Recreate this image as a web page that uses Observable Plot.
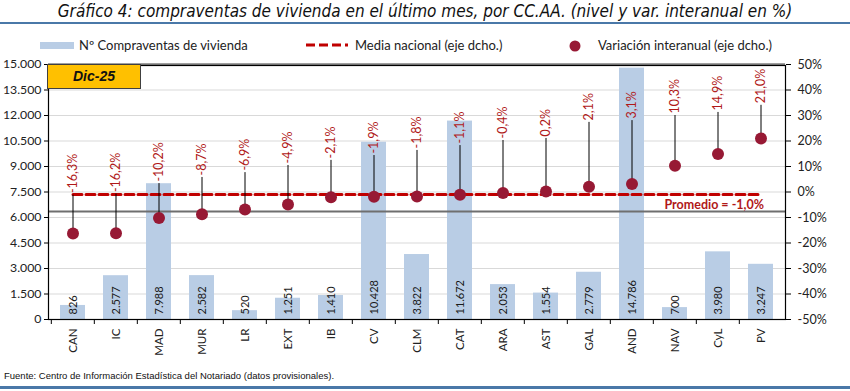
<!DOCTYPE html>
<html>
<head>
<meta charset="utf-8">
<script src="https://cdn.jsdelivr.net/npm/d3@7"></script>
<script src="https://cdn.jsdelivr.net/npm/@observablehq/plot@0.6"></script>
<style>
  html, body { margin: 0; padding: 0; background: white; }
  #wrap { position: relative; width: 850px; height: 391px; overflow: hidden; background: white; }
  #chart { position: absolute; left: 0; top: 0; }
  .abs { position: absolute; white-space: nowrap; }
  #title { left: 0; width: 850px; top: 1px; text-align: center; font-family: "Liberation Sans Narrow", "DejaVu Sans Condensed", sans-serif; font-style: italic; font-size: 17px; color: #111; }
  .bline { left: 0; width: 850px; height: 2px; background: #4a78a8; }
  .leg { font-family: Lato, sans-serif; font-size: 13px; color: #222; top: 37px; }
  #footer { left: 4px; top: 370px; font-family: "Liberation Sans", Arial, sans-serif; font-size: 9.5px; color: #111; }
  #dic { left: 47px; top: 64px; width: 92px; height: 23px; background: #FFC000; border: 1px solid #404040; font-family: "Liberation Sans", Arial, sans-serif; font-weight: bold; font-style: italic; font-size: 14px; line-height: 23px; text-align: center; color: #111; }
</style>
</head>
<body>
<div id="wrap">
  <div id="chart"></div>
  <div id="title" class="abs">Gráfico 4: compraventas de vivienda en el último mes, por CC.AA. (nivel y var. interanual en %)</div>
  <div class="abs bline" style="top:22px"></div>
  <div class="abs" style="left:40px;top:42px;width:34px;height:7px;background:#b9cde5"></div>
  <div class="abs leg" style="left:79px">Nº Compraventas de vivienda</div>
  <svg class="abs" style="left:304px;top:40px" width="46" height="10"><line x1="2" y1="5" x2="44" y2="5" stroke="#c00000" stroke-width="3" stroke-dasharray="9,4"/></svg>
  <div class="abs leg" style="left:355px">Media nacional (eje dcho.)</div>
  <svg class="abs" style="left:568px;top:39px" width="14" height="14"><circle cx="7" cy="7" r="5.5" fill="#971934"/></svg>
  <div class="abs leg" style="left:598px">Variación interanual (eje dcho.)</div>
  <div id="dic" class="abs">Dic-25</div>
  <div id="footer" class="abs">Fuente: Centro de Información Estadística del Notariado (datos provisionales).</div>
  <div class="abs bline" style="top:386px;height:3px"></div>
</div>
<script>
// ---- data ----
const categories = ["CAN","IC","MAD","MUR","LR","EXT","IB","CV","CLM","CAT","ARA","AST","GAL","AND","NAV","CyL","PV"];
const sales = [826, 2577, 7988, 2582, 520, 1251, 1410, 10428, 3822, 11672, 2053, 1554, 2779, 14786, 700, 3980, 3247];
const yoy = [-16.3, -16.2, -10.2, -8.7, -6.9, -4.9, -2.1, -1.9, -1.8, -1.1, -0.4, 0.2, 2.1, 3.1, 10.3, 14.9, 21.0];
// label anchor level (right axis, %) where each leader line ends
const labelAnchor = [-1.2, -0.8, 3.3, 5.7, 7.6, 10.4, 12.4, 14.3, 16.3, 18.2, 20.2, 21.0, 27.3, 28.0, 30.0, 31.2, 34.0];
const nationalMean = -1.0;
const leftTicks = [0, 1500, 3000, 4500, 6000, 7500, 9000, 10500, 12000, 13500, 15000];
const rightTicks = [-50, -40, -30, -20, -10, 0, 10, 20, 30, 40, 50];
const refLineLevel = 6350; // dark gray horizontal line (left axis units)
const promedioText = "Promedio = -1,0%";

// ---- helpers ----
const loc = d3.formatLocale({decimal: ",", thousands: ".", grouping: [3], currency: ["", "€"], minus: "-"});
const fmtInt = loc.format(",d");
const fmtPct = v => loc.format(".1f")(v) + "%";
const leftMin = 0, leftMax = 15000, rightMin = -50, rightMax = 50;
const toLeft = p => leftMin + (p - rightMin) / (rightMax - rightMin) * (leftMax - leftMin);
const toRight = v => rightMin + (v - leftMin) / (leftMax - leftMin) * (rightMax - rightMin);

const data = categories.map((c, i) => ({cat: c, sales: sales[i], yoy: yoy[i], anchor: labelAnchor[i]}));

const W = 850, H = 391, mL = 48, mR = 65, mT = 64, mB = 72;
const step = (W - mL - mR) / categories.length;

const chart = Plot.plot({
  width: W, height: H,
  marginLeft: mL, marginRight: mR, marginTop: mT, marginBottom: mB,
  style: {fontFamily: "Lato, sans-serif", background: "white", color: "#222"},
  x: {type: "band", domain: categories, paddingInner: 0.42, paddingOuter: 0.21, label: null},
  y: {domain: [leftMin, leftMax], label: null},
  marks: [
    Plot.gridY(leftTicks, {stroke: "#d9d9d9", strokeOpacity: 1, strokeWidth: 1}),
    Plot.barY(data, {x: "cat", y: "sales", fill: "#b9cde5"}),
    Plot.text(data, {x: "cat", y: 0, text: d => fmtInt(d.sales), rotate: -90, textAnchor: "start", dy: -5, fontSize: 11, fill: "#1a1a1a"}),
    Plot.ruleY([refLineLevel], {stroke: "#6f6f6f", strokeWidth: 2}),
    Plot.ruleY([leftMax], {stroke: "#7f7f7f", strokeWidth: 2.5}),
    Plot.lineY(data, {x: "cat", y: () => toLeft(nationalMean), stroke: "#c00000", strokeWidth: 3, strokeDasharray: "9,4"}),
    Plot.ruleX(data, {x: "cat", y1: d => toLeft(d.yoy), y2: d => toLeft(d.anchor), stroke: "#000", strokeWidth: 1}),
    Plot.dot(data, {x: "cat", y: d => toLeft(d.yoy), r: 6, fill: "#971934"}),
    Plot.text(data, {x: "cat", y: d => toLeft(d.anchor), text: d => fmtPct(d.yoy), rotate: -90, textAnchor: "start", dy: -2, fontSize: 12.5, fill: "#b01818"}),
    Plot.text([promedioText], {x: () => categories[categories.length - 1], y: () => toLeft(nationalMean), text: d => d, textAnchor: "end", dx: 3, dy: 10, fontSize: 12.5, fontWeight: "bold", fill: "#b01818"}),
    Plot.axisY(leftTicks, {anchor: "left", tickSize: 4, tickPadding: 3, tickFormat: fmtInt, fontSize: 12.3, stroke: "#000"}),
    Plot.axisY(rightTicks.map(toLeft), {anchor: "right", tickSize: 5, tickPadding: 7, tickFormat: v => fmtPct(toRight(v)).replace(",0", ""), fontSize: 12.5, stroke: "#000"}),
    Plot.axisX({tickSize: 0, tickRotate: -90, tickPadding: 9, fontSize: 11.5}),
    Plot.axisX({tickSize: 5, tickFormat: () => "", dx: -step / 2, stroke: "#000"}),
    Plot.frame({stroke: "#000", strokeWidth: 1.2, insetTop: 1})
  ]
});
document.getElementById("chart").appendChild(chart);
</script>
</body>
</html>
